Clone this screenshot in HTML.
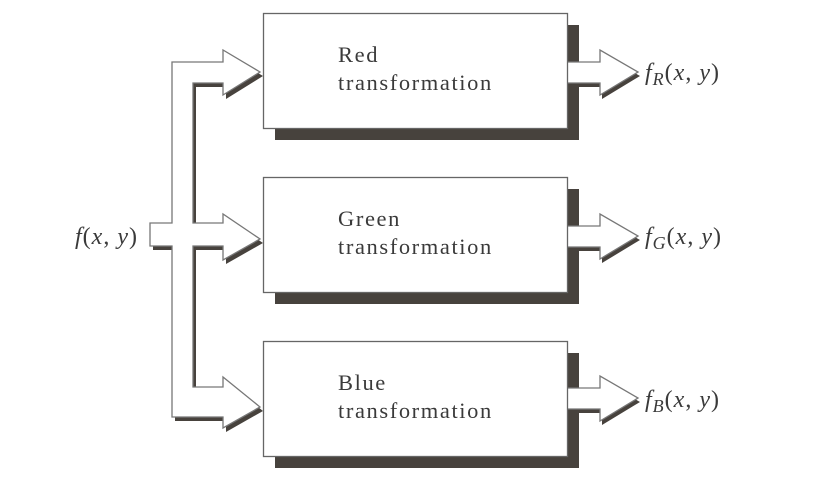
<!DOCTYPE html>
<html><head><style>
body{margin:0;background:#fff;}
svg{display:block;}
text{font-family:"Liberation Serif",serif;fill:#3a3a3a;}
</style></head><body>
<svg width="828" height="494" viewBox="0 0 828 494">
<defs>
<g id="bus">
<polygon points="150,223 172,223 172,62 223,62 223,50 260,72 223,95 223,83 193,83 193,223 223,223 223,214 260,239 223,260 223,246 193,246 193,387 223,387 223,377 260,407 223,428 223,417 172,417 172,246 150,246"/>
</g>
<g id="out">
<polygon points="567,62 600,62 600,50 638,72 600,95 600,83 567,83"/>
</g>
</defs>
<rect x="275" y="25" width="304" height="115" fill="#47423d"/>
<rect x="275" y="189" width="304" height="115" fill="#47423d"/>
<rect x="275" y="353" width="304" height="115" fill="#47423d"/>
<use href="#bus" transform="translate(3,4)" fill="#47423d"/>
<use href="#bus" fill="#fff" stroke="#777" stroke-width="1.3"/>
<g fill="#47423d"><use href="#out" transform="translate(2,4)"/><use href="#out" transform="translate(2,168)"/><use href="#out" transform="translate(2,330)"/></g>
<g fill="#fff" stroke="#777" stroke-width="1.3"><use href="#out"/><use href="#out" transform="translate(0,164)"/><use href="#out" transform="translate(0,326)"/></g>
<rect x="263.5" y="13.5" width="304" height="115" fill="#fff" stroke="#666" stroke-width="1.3"/>
<rect x="263.5" y="177.5" width="304" height="115" fill="#fff" stroke="#666" stroke-width="1.3"/>
<rect x="263.5" y="341.5" width="304" height="115" fill="#fff" stroke="#666" stroke-width="1.3"/>
<g font-size="22.5" letter-spacing="1.6">
<text x="338" y="62">Red</text><text x="338" y="90">transformation</text>
<text x="338" y="226">Green</text><text x="338" y="254">transformation</text>
<text x="338" y="390">Blue</text><text x="338" y="418">transformation</text>
</g>
<g font-size="24" letter-spacing="1">
<text x="75" y="244"><tspan font-style="italic">f</tspan>(<tspan font-style="italic">x</tspan>, <tspan font-style="italic">y</tspan>)</text>
<text x="645" y="80"><tspan font-style="italic">f</tspan><tspan font-style="italic" font-size="18" dy="5">R</tspan><tspan dy="-5">(</tspan><tspan font-style="italic">x</tspan>, <tspan font-style="italic">y</tspan>)</text>
<text x="645" y="244"><tspan font-style="italic">f</tspan><tspan font-style="italic" font-size="18" dy="5">G</tspan><tspan dy="-5">(</tspan><tspan font-style="italic">x</tspan>, <tspan font-style="italic">y</tspan>)</text>
<text x="645" y="407"><tspan font-style="italic">f</tspan><tspan font-style="italic" font-size="18" dy="5">B</tspan><tspan dy="-5">(</tspan><tspan font-style="italic">x</tspan>, <tspan font-style="italic">y</tspan>)</text>
</g>
</svg>
</body></html>
